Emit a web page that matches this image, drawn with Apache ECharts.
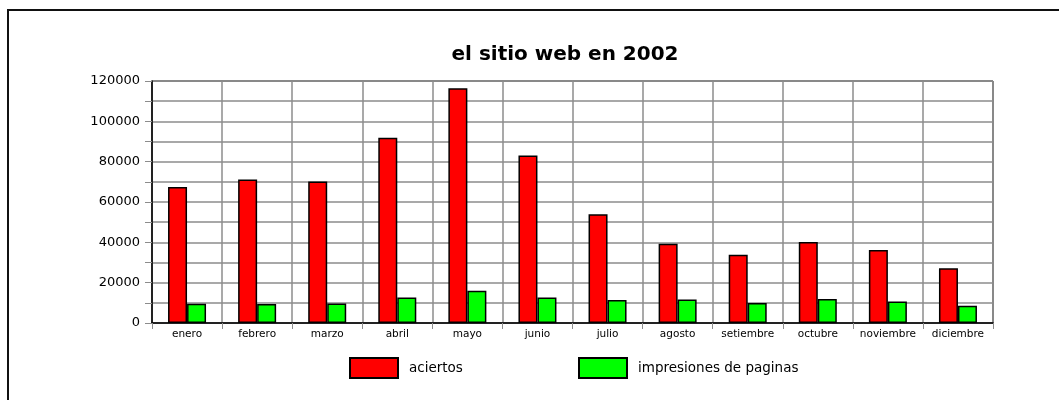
<!DOCTYPE html>
<html>
<head>
<meta charset="utf-8">
<script src="https://cdn.jsdelivr.net/npm/echarts@6/dist/echarts.min.js"></script>
<style>
  html, body { margin: 0; padding: 0; background: #fff; }
  #chart { width: 1059px; height: 400px; }
</style>
</head>
<body>
<div id="chart"></div>
<script>
// meses
var meses = ['enero', 'febrero', 'marzo', 'abril', 'mayo', 'junio', 'julio',
  'agosto', 'setiembre', 'octubre', 'noviembre', 'diciembre'];
// valores
var aciertos = [67500, 71200, 70200, 91800, 116400, 83000, 53900, 39300, 33900, 40200, 36200, 27100];
var impresiones = [9600, 9400, 9700, 12700, 16000, 12700, 11400, 11700, 9900, 11900, 10700, 8600];

var FONT = 'DejaVu Sans';
var gris = '#8c8c8c';

var chart = echarts.init(document.getElementById('chart'), null, { renderer: 'canvas' });

var option = {
  backgroundColor: '#fff',
  animation: false,
  title: {
    text: 'el sitio web en 2002',
    left: 560,
    textAlign: 'center',
    top: 40,
    textStyle: { fontFamily: FONT, fontSize: 20, fontWeight: 'bold', color: '#000' }
  },
  // marco exterior (solo izquierda y arriba visibles)
  graphic: [{
    type: 'rect',
    shape: { x: 8, y: 10, width: 1200, height: 600 },
    style: { fill: 'none', stroke: '#111', lineWidth: 2 },
    silent: true
  }],
  legend: [{
    data: ['aciertos'],
    icon: 'rect',
    left: 349,
    top: 357,
    padding: 0,
    itemWidth: 48,
    itemHeight: 20,
    textStyle: { fontFamily: FONT, fontSize: 13.5, color: '#000', padding: [0, 0, 0, 6] }
  }, {
    data: ['impresiones de paginas'],
    icon: 'rect',
    left: 578,
    top: 357,
    padding: 0,
    itemWidth: 48,
    itemHeight: 20,
    textStyle: { fontFamily: FONT, fontSize: 13.5, color: '#000', padding: [0, 0, 0, 6] }
  }],
  grid: {
    left: 152,
    right: 66,
    top: 81,
    bottom: 77,
    show: true,
    borderColor: '#000',
    borderWidth: 1
  },
  xAxis: {
    type: 'category',
    data: meses,
    boundaryGap: true,
    axisLine: { lineStyle: { color: '#000', width: 1.5 } },
    axisTick: { show: true, length: 6, lineStyle: { color: gris } },
    axisLabel: { interval: 0, margin: 6, fontFamily: FONT, fontSize: 10.5, color: '#000' },
    splitLine: { show: true, interval: 0, lineStyle: { color: gris, width: 1.5 } }
  },
  yAxis: {
    type: 'value',
    min: 0,
    max: 120000,
    interval: 20000,
    axisLine: { show: true, lineStyle: { color: '#000', width: 1.5 } },
    axisTick: { show: true, length: 7, lineStyle: { color: gris } },
    minorTick: { show: true, splitNumber: 2, length: 7, lineStyle: { color: gris } },
    axisLabel: {
      margin: 12, fontFamily: FONT, fontSize: 13, color: '#000',
      formatter: function (v) { return String(v); }
    },
    splitLine: { show: true, lineStyle: { color: gris, width: 1.5 } },
    minorSplitLine: { show: true, lineStyle: { color: gris, width: 1.5 } }
  },
  series: [{
    name: 'aciertos',
    type: 'bar',
    data: aciertos,
    barWidth: 19,
    barGap: '0%',
    itemStyle: { color: '#ff0000', borderColor: '#000', borderWidth: 1.5 }
  }, {
    name: 'impresiones de paginas',
    type: 'bar',
    data: impresiones,
    barWidth: 19,
    barGap: '0%',
    itemStyle: { color: '#00ff00', borderColor: '#000', borderWidth: 1.5 }
  }]
};

chart.setOption(option);
</script>
</body>
</html>
